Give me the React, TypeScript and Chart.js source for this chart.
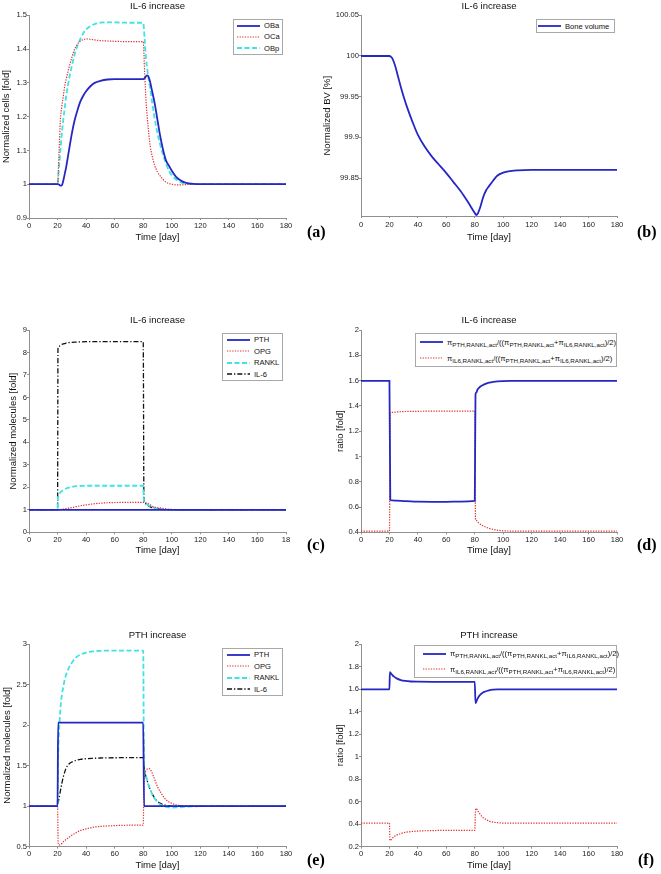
import React, { useEffect, useRef } from "react";
import { Chart, registerables } from "chart.js";

Chart.register(...registerables);

const FONT = "'Liberation Sans', Arial, Helvetica, sans-serif";
const BLUE = "#2626c4";
const RED = "#e03030";
const CYAN = "#3fe3e3";
const BLACK = "#111111";

// ---------- shared ticks ----------
const xTicks = [0, 20, 40, 60, 80, 100, 120, 140, 160, 180];
const xLabels = ["0", "20", "40", "60", "80", "100", "120", "140", "160", "180"];
const xLabelsC = ["0", "20", "40", "60", "80", "100", "120", "140", "160", "18"];

// ---------- (a) cells, IL-6 increase ----------
const labelsA = ["OBa", "OCa", "OBp"];
const timeA = [0, 20, 21, 22, 23, 24, 25, 26, 28, 30, 32, 34, 36, 38, 40, 43, 46, 50, 55, 60, 70, 80,
  81, 82, 83, 84, 85, 86, 88, 90, 92, 94, 96, 98, 100, 103, 106, 110, 115, 120, 140, 160, 180];
const obaA = [1, 1, 0.999, 0.996, 0.997, 1.01, 1.03, 1.05, 1.1, 1.15, 1.19, 1.22, 1.245, 1.262, 1.275, 1.29, 1.3, 1.306, 1.31, 1.311, 1.311, 1.311,
  1.314, 1.32, 1.322, 1.315, 1.3, 1.28, 1.24, 1.19, 1.14, 1.1, 1.07, 1.055, 1.04, 1.022, 1.012, 1.004, 1.001, 1, 1, 1, 1];
const ocaA = [1, 1, 1.09, 1.19, 1.23, 1.26, 1.29, 1.31, 1.345, 1.375, 1.4, 1.415, 1.424, 1.428, 1.43, 1.429, 1.427, 1.425, 1.424, 1.423, 1.422, 1.422,
  1.33, 1.245, 1.19, 1.145, 1.11, 1.088, 1.056, 1.036, 1.024, 1.014, 1.006, 1.002, 1, 0.998, 0.998, 0.999, 1, 1, 1, 1, 1];
const obpA = [1, 1, 1.05, 1.1, 1.15, 1.19, 1.225, 1.26, 1.31, 1.35, 1.385, 1.41, 1.43, 1.447, 1.458, 1.468, 1.474, 1.478, 1.479, 1.479, 1.478, 1.478,
  1.43, 1.37, 1.335, 1.305, 1.28, 1.25, 1.195, 1.15, 1.115, 1.085, 1.06, 1.04, 1.027, 1.014, 1.006, 1.002, 1, 1, 1, 1, 1];
const yTicksA = [0.9, 1, 1.1, 1.2, 1.3, 1.4, 1.5];
const yLabelsA = ["0.9", "1", "1.1", "1.2", "1.3", "1.4", "1.5"];

// ---------- (b) bone volume ----------
const labelsB = ["Bone volume"];
const timeB = [0, 20, 21, 22, 24, 26, 28, 30, 33, 36, 40, 45, 50, 55, 60, 65, 70, 75, 80, 81, 82, 84, 86, 88, 90, 93, 96, 100, 105, 110, 120, 140, 160, 180];
const bvB = [100, 100, 99.999, 99.997, 99.988, 99.975, 99.962, 99.95, 99.934, 99.92, 99.903, 99.888, 99.876, 99.866, 99.856, 99.845, 99.834, 99.821, 99.807,
  99.8045, 99.806, 99.815, 99.827, 99.835, 99.84, 99.847, 99.853, 99.8565, 99.8585, 99.8595, 99.86, 99.86, 99.86, 99.86];
const yTicksB = [99.85, 99.9, 99.95, 100, 100.05];
const yLabelsB = ["99.85", "99.9", "99.95", "100", "100.05"];

// ---------- (c) molecules, IL-6 increase ----------
const labelsC = ["PTH", "OPG", "RANKL", "IL-6"];
const timeC = [0, 20, 20.3, 21, 22, 24, 26, 28, 30, 33, 36, 40, 45, 50, 55, 60, 70, 80,
  80.5, 81, 82, 83, 84, 85, 86, 88, 90, 93, 96, 100, 105, 110, 120, 140, 160, 180];
const pthTimeC = [0, 180];
const pthC = [1, 1];
const opgC = [1, 1, 1, 1.003, 1.01, 1.03, 1.05, 1.075, 1.1, 1.14, 1.18, 1.22, 1.265, 1.295, 1.315, 1.325, 1.33, 1.33,
  1.33, 1.328, 1.31, 1.29, 1.26, 1.23, 1.17, 1.125, 1.1, 1.075, 1.045, 1.015, 1.003, 1, 1, 1, 1, 1];
const ranklC = [1, 1, 1.55, 1.68, 1.78, 1.88, 1.95, 1.99, 2.02, 2.05, 2.06, 2.07, 2.07, 2.07, 2.07, 2.07, 2.07, 2.07,
  1.38, 1.33, 1.28, 1.23, 1.19, 1.155, 1.125, 1.08, 1.05, 1.02, 1, 0.99, 0.985, 0.985, 0.99, 0.995, 0.998, 1];
const il6C = [1, 1, 8.2, 8.27, 8.32, 8.38, 8.42, 8.44, 8.45, 8.46, 8.47, 8.48, 8.48, 8.48, 8.48, 8.48, 8.48, 8.48,
  1.4, 1.33, 1.26, 1.2, 1.16, 1.13, 1.1, 1.065, 1.04, 1.02, 1.008, 1, 1, 1, 1, 1, 1, 1];
const yTicksC = [0, 1, 2, 3, 4, 5, 6, 7, 8, 9];
const yLabelsC = ["0", "1", "2", "3", "4", "5", "6", "7", "8", "9"];

// ---------- (d) ratios, IL-6 increase ----------
const labelsRatio = [
  "πPTH,RANKL,act/((πPTH,RANKL,act+πIL6,RANKL,act)/2)",
  "πIL6,RANKL,act/((πPTH,RANKL,act+πIL6,RANKL,act)/2)",
];
const timeD = [0, 20, 20.6, 22, 25, 30, 35, 40, 50, 60, 70, 80,
  80.5, 81, 82, 83, 84, 86, 88, 90, 93, 96, 100, 105, 120, 180];
const ratioPthD = [1.597, 1.597, 0.655, 0.652, 0.65, 0.647, 0.644, 0.642, 0.641, 0.641, 0.643, 0.648,
  1.49, 1.505, 1.53, 1.543, 1.553, 1.566, 1.576, 1.583, 1.59, 1.594, 1.596, 1.597, 1.597, 1.597];
const ratioIl6D = [0.41, 0.41, 1.345, 1.348, 1.352, 1.355, 1.356, 1.357, 1.358, 1.358, 1.358, 1.358,
  0.5, 0.495, 0.482, 0.472, 0.463, 0.45, 0.44, 0.432, 0.423, 0.417, 0.412, 0.41, 0.41, 0.41];
const yTicksD = [0.4, 0.6, 0.8, 1, 1.2, 1.4, 1.6, 1.8, 2];
const yLabelsD = ["0.4", "0.6", "0.8", "1", "1.2", "1.4", "1.6", "1.8", "2"];

// ---------- (e) molecules, PTH increase ----------
const timeE = [0, 20, 20.4, 21, 22, 23, 24, 25, 26, 28, 30, 33, 36, 40, 45, 50, 60, 70, 80,
  80.5, 81, 82, 83, 84, 85, 86, 87, 88, 90, 92, 94, 96, 98, 100, 103, 107, 110, 115, 120, 140, 160, 180];
const pthTimeE = [0, 20, 20.4, 80, 80.6, 180];
const pthE = [1, 1, 2.03, 2.03, 1, 1];
const opgE = [1, 1, 0.56, 0.52, 0.525, 0.54, 0.56, 0.575, 0.59, 0.615, 0.64, 0.672, 0.7, 0.72, 0.74, 0.75, 0.76, 0.765, 0.765,
  1.25, 1.38, 1.44, 1.46, 1.465, 1.45, 1.42, 1.375, 1.33, 1.24, 1.175, 1.12, 1.08, 1.052, 1.035, 1.015, 1.002, 1, 1, 1, 1, 1, 1];
const ranklE = [1, 1, 1.6, 1.9, 2.2, 2.37, 2.47, 2.56, 2.62, 2.71, 2.77, 2.835, 2.87, 2.895, 2.91, 2.916, 2.918, 2.918, 2.918,
  1.55, 1.43, 1.37, 1.3, 1.245, 1.2, 1.16, 1.125, 1.095, 1.05, 1.02, 1, 0.99, 0.985, 0.983, 0.984, 0.988, 0.992, 0.997, 1, 1, 1, 1];
const il6E = [1, 1, 1.04, 1.09, 1.19, 1.28, 1.36, 1.42, 1.47, 1.52, 1.545, 1.565, 1.578, 1.585, 1.59, 1.594, 1.597, 1.598, 1.598,
  1.5, 1.43, 1.36, 1.3, 1.245, 1.2, 1.16, 1.13, 1.1, 1.06, 1.035, 1.02, 1.01, 1.004, 1, 1, 1, 1, 1, 1, 1, 1, 1];
const yTicksE = [0.5, 1, 1.5, 2, 2.5, 3];
const yLabelsE = ["0.5", "1", "1.5", "2", "2.5", "3"];

// ---------- (f) ratios, PTH increase ----------
const timeF = [0, 20, 20.3, 21, 22, 23, 25, 28, 31, 35, 40, 50, 60, 80,
  80.5, 81, 82, 83, 85, 87, 90, 93, 96, 100, 110, 180];
const ratioPthF = [1.597, 1.597, 1.75, 1.74, 1.725, 1.712, 1.695, 1.68, 1.672, 1.667, 1.665, 1.664, 1.664, 1.664,
  1.475, 1.485, 1.515, 1.537, 1.563, 1.576, 1.588, 1.594, 1.597, 1.597, 1.597, 1.597];
const ratioIl6F = [0.41, 0.41, 0.255, 0.26, 0.275, 0.287, 0.302, 0.317, 0.327, 0.334, 0.339, 0.343, 0.345, 0.345,
  0.52, 0.54, 0.52, 0.502, 0.468, 0.448, 0.428, 0.418, 0.413, 0.41, 0.41, 0.41];
const yTicksF = [0.2, 0.4, 0.6, 0.8, 1, 1.2, 1.4, 1.6, 1.8, 2];
const yLabelsF = ["0.2", "0.4", "0.6", "0.8", "1", "1.2", "1.4", "1.6", "1.8", "2"];

// ---------- styles ----------
type Style = { color: string; dash: number[]; width: number };
const SOLID_B: Style = { color: BLUE, dash: [], width: 1.8 };
const DOT_R: Style = { color: RED, dash: [1.3, 1.3], width: 1.2 };
const DASH_C: Style = { color: CYAN, dash: [5, 2.5], width: 1.8 };
const DASHDOT_K: Style = { color: BLACK, dash: [5, 2, 1.3, 2], width: 1.3 };

type Line = { label: string; x: number[]; y: number[]; s: Style };
type PanelSpec = {
  title: string; yTitle: string;
  cl: number; ct: number; cw: number;
  l: number; r: number; t: number; b: number;
  titleY: number; xTitleY: number; yTitleX: number; xTickPad: number;
  yMin: number; yMax: number; yTicks: number[]; yLabels: string[]; xLabels: string[];
  lines: Line[];
};

const panels: PanelSpec[] = [
  {
    title: "IL-6 increase", yTitle: "Normalized cells [fold]",
    cl: 0, ct: 0, cw: 320, l: 29, r: 286, t: 15.3, b: 218,
    titleY: 6, xTitleY: 237, yTitleX: 6.5, xTickPad: 1,
    yMin: 0.9, yMax: 1.5, yTicks: yTicksA, yLabels: yLabelsA, xLabels,
    lines: [
      { label: labelsA[0], x: timeA, y: obaA, s: SOLID_B },
      { label: labelsA[1], x: timeA, y: ocaA, s: DOT_R },
      { label: labelsA[2], x: timeA, y: obpA, s: DASH_C },
    ],
  },
  {
    title: "IL-6 increase", yTitle: "Normalized BV [%]",
    cl: 320, ct: 0, cw: 341, l: 361, r: 617, t: 15.3, b: 216,
    titleY: 6, xTitleY: 237, yTitleX: 327.5, xTickPad: 2.5,
    yMin: 99.8033, yMax: 100.05, yTicks: yTicksB, yLabels: yLabelsB, xLabels,
    lines: [{ label: labelsB[0], x: timeB, y: bvB, s: SOLID_B }],
  },
  {
    title: "IL-6 increase", yTitle: "Normalized molecules [fold]",
    cl: 0, ct: 300, cw: 320, l: 29, r: 286, t: 330, b: 532.3,
    titleY: 320.7, xTitleY: 550.7, yTitleX: 13, xTickPad: 1,
    yMin: 0, yMax: 9, yTicks: yTicksC, yLabels: yLabelsC, xLabels: xLabelsC,
    lines: [
      { label: labelsC[0], x: pthTimeC, y: pthC, s: SOLID_B },
      { label: labelsC[1], x: timeC, y: opgC, s: DOT_R },
      { label: labelsC[2], x: timeC, y: ranklC, s: DASH_C },
      { label: labelsC[3], x: timeC, y: il6C, s: DASHDOT_K },
    ],
  },
  {
    title: "IL-6 increase", yTitle: "ratio [fold]",
    cl: 330, ct: 300, cw: 331, l: 361, r: 617, t: 330, b: 532.3,
    titleY: 320, xTitleY: 550.7, yTitleX: 340, xTickPad: 1,
    yMin: 0.4, yMax: 2, yTicks: yTicksD, yLabels: yLabelsD, xLabels,
    lines: [
      { label: labelsRatio[0], x: timeD, y: ratioPthD, s: SOLID_B },
      { label: labelsRatio[1], x: timeD, y: ratioIl6D, s: DOT_R },
    ],
  },
  {
    title: "PTH increase", yTitle: "Normalized molecules [fold]",
    cl: 0, ct: 605, cw: 320, l: 29, r: 286, t: 644, b: 846.7,
    titleY: 635, xTitleY: 865.7, yTitleX: 7.5, xTickPad: 1,
    yMin: 0.5, yMax: 3, yTicks: yTicksE, yLabels: yLabelsE, xLabels,
    lines: [
      { label: labelsC[0], x: pthTimeE, y: pthE, s: SOLID_B },
      { label: labelsC[1], x: timeE, y: opgE, s: DOT_R },
      { label: labelsC[2], x: timeE, y: ranklE, s: DASH_C },
      { label: labelsC[3], x: timeE, y: il6E, s: DASHDOT_K },
    ],
  },
  {
    title: "PTH increase", yTitle: "ratio [fold]",
    cl: 330, ct: 605, cw: 331, l: 361, r: 617, t: 644, b: 846.7,
    titleY: 635, xTitleY: 865.7, yTitleX: 340.5, xTickPad: 1,
    yMin: 0.2, yMax: 2, yTicks: yTicksF, yLabels: yLabelsF, xLabels,
    lines: [
      { label: labelsRatio[0], x: timeF, y: ratioPthF, s: SOLID_B },
      { label: labelsRatio[1], x: timeF, y: ratioIl6F, s: DOT_R },
    ],
  },
];

const TITLE_SIZE = 9.5;
const LH = TITLE_SIZE * 1.2;
const TICK_SIZE = 7.6;
const AXIS_COLOR = "#8f8f8f";

function PanelChart({ p }: { p: PanelSpec }) {
  const ref = useRef<HTMLCanvasElement>(null);
  const xh = p.xTitleY + LH / 2 - p.b;
  const ch = Math.ceil(p.b - p.ct + xh + 1);
  useEffect(() => {
    if (!ref.current) return;
    const titlePadTop = p.titleY - p.ct - LH / 2;
    const titlePadBottom = p.t - p.ct - LH - titlePadTop;
    const chart = new Chart(ref.current, {
      type: "line",
      data: {
        datasets: p.lines.map((ln) => ({
          label: ln.label,
          data: ln.x.map((x, i) => ({ x, y: ln.y[i] })),
          borderColor: ln.s.color,
          backgroundColor: ln.s.color,
          borderWidth: ln.s.width,
          borderDash: ln.s.dash,
          pointRadius: 0,
          fill: false,
          cubicInterpolationMode: "monotone",
        })),
      },
      options: {
        responsive: false,
        animation: false,
        events: [],
        layout: {
          padding: { left: 0, top: 0, right: p.cl + p.cw - p.r, bottom: ch - (p.b - p.ct) - xh },
        },
        plugins: {
          legend: { display: false },
          tooltip: { enabled: false },
          title: {
            display: true,
            text: p.title,
            fullSize: false,
            color: "#111",
            font: { family: FONT, size: TITLE_SIZE, weight: "normal" },
            padding: { top: titlePadTop, bottom: titlePadBottom },
          },
        },
        scales: {
          x: {
            type: "linear",
            min: 0,
            max: 180,
            afterBuildTicks: (s: any) => {
              s.ticks = xTicks.map((v) => ({ value: v }));
            },
            afterFit: (s: any) => {
              s.height = xh;
            },
            ticks: {
              autoSkip: false,
              maxRotation: 0,
              padding: p.xTickPad,
              color: "#222",
              font: { family: FONT, size: TICK_SIZE },
              callback: (_v: any, i: number) => p.xLabels[i],
            },
            grid: { drawOnChartArea: false, drawTicks: true, tickLength: 2, color: AXIS_COLOR },
            border: { color: AXIS_COLOR, width: 1 },
            title: {
              display: true,
              text: "Time [day]",
              color: "#111",
              font: { family: FONT, size: TITLE_SIZE },
              padding: { top: 0, bottom: 0 },
            },
          },
          y: {
            type: "linear",
            min: p.yMin,
            max: p.yMax,
            afterBuildTicks: (s: any) => {
              s.ticks = p.yTicks.map((v) => ({ value: v }));
            },
            afterFit: (s: any) => {
              s.width = p.l - p.cl;
            },
            ticks: {
              autoSkip: false,
              padding: 0,
              color: "#222",
              font: { family: FONT, size: TICK_SIZE },
              callback: (_v: any, i: number) => p.yLabels[i],
            },
            grid: { drawOnChartArea: false, drawTicks: true, tickLength: 2, color: AXIS_COLOR },
            border: { color: AXIS_COLOR, width: 1 },
            title: {
              display: true,
              text: p.yTitle,
              color: "#111",
              font: { family: FONT, size: TITLE_SIZE },
              padding: { top: p.yTitleX - p.cl - LH / 2, bottom: 0 },
            },
          },
        },
      } as any,
    });
    return () => chart.destroy();
  }, []);
  return (
    <canvas
      ref={ref}
      width={p.cw}
      height={ch}
      style={{ position: "absolute", left: p.cl, top: p.ct, width: p.cw, height: ch }}
    />
  );
}

// ---------- legends (HTML, so subscripts can be shown) ----------
const Sub = ({ t }: { t: string }) => (
  <sub style={{ fontSize: 6.2, verticalAlign: "-1.5px", lineHeight: 0 }}>{t}</sub>
);
const ratioNode = (first: string) => (
  <>
    π<Sub t={first} />/((π<Sub t="PTH,RANKL,act" />+π<Sub t="IL6,RANKL,act" />)/2)
  </>
);

type LegendItem = { node: React.ReactNode; s: Style };
type LegendSpec = { left: number; top: number; width: number; height: number; pad: number; items: LegendItem[] };

const legends: LegendSpec[] = [
  { left: 233, top: 19, width: 50, height: 36, pad: 3, items: [
    { node: labelsA[0], s: SOLID_B }, { node: labelsA[1], s: DOT_R }, { node: labelsA[2], s: DASH_C }] },
  { left: 536, top: 19, width: 79, height: 14, pad: 1, items: [{ node: labelsB[0], s: SOLID_B }] },
  { left: 222, top: 333, width: 61, height: 48, pad: 4, items: [
    { node: labelsC[0], s: SOLID_B }, { node: labelsC[1], s: DOT_R }, { node: labelsC[2], s: DASH_C }, { node: labelsC[3], s: DASHDOT_K }] },
  { left: 415, top: 333, width: 202, height: 34, pad: 4, items: [
    { node: ratioNode("PTH,RANKL,act"), s: SOLID_B }, { node: ratioNode("IL6,RANKL,act"), s: DOT_R }] },
  { left: 222, top: 648, width: 61, height: 48, pad: 4, items: [
    { node: labelsC[0], s: SOLID_B }, { node: labelsC[1], s: DOT_R }, { node: labelsC[2], s: DASH_C }, { node: labelsC[3], s: DASHDOT_K }] },
  { left: 414, top: 645, width: 203, height: 33, pad: 8, items: [
    { node: ratioNode("PTH,RANKL,act"), s: SOLID_B }, { node: ratioNode("IL6,RANKL,act"), s: DOT_R }] },
];

function LegendBox({ lg }: { lg: LegendSpec }) {
  return (
    <div
      style={{
        position: "absolute", left: lg.left, top: lg.top, width: lg.width, height: lg.height,
        boxSizing: "border-box", border: "1px solid #a8a8a8", background: "#fff",
        display: "flex", flexDirection: "column", justifyContent: "space-around",
        fontFamily: FONT, fontSize: 7.6, color: "#111", lineHeight: "9px",
      }}
    >
      {lg.items.map((it, i) => (
        <div key={i} style={{ display: "flex", alignItems: "center", paddingLeft: lg.pad, whiteSpace: "nowrap" }}>
          <svg width={23} height={4} style={{ flex: "none" }}>
            <line x1={0} y1={2} x2={23} y2={2} stroke={it.s.color} strokeWidth={it.s.width}
              strokeDasharray={it.s.dash.length ? it.s.dash.join(" ") : undefined} />
          </svg>
          <span style={{ marginLeft: 4 }}>{it.node}</span>
        </div>
      ))}
    </div>
  );
}

const panelTags = [
  { text: "(a)", left: 307, top: 224 },
  { text: "(b)", left: 637, top: 224 },
  { text: "(c)", left: 307, top: 536.5 },
  { text: "(d)", left: 637, top: 536.5 },
  { text: "(e)", left: 307, top: 852.4 },
  { text: "(f)", left: 638, top: 852.4 },
];

export default function App() {
  return (
    <div style={{ position: "absolute", left: 0, top: 0, width: 661, height: 874, background: "#fff", overflow: "hidden" }}>
      {panels.map((p, i) => (
        <PanelChart key={i} p={p} />
      ))}
      {legends.map((lg, i) => (
        <LegendBox key={i} lg={lg} />
      ))}
      {panelTags.map((t, i) => (
        <div key={i} style={{ position: "absolute", left: t.left, top: t.top, fontFamily: "'Liberation Serif', 'Times New Roman', serif", fontWeight: "bold", fontSize: 16, lineHeight: "16px", color: "#000" }}>
          {t.text}
        </div>
      ))}
    </div>
  );
}
